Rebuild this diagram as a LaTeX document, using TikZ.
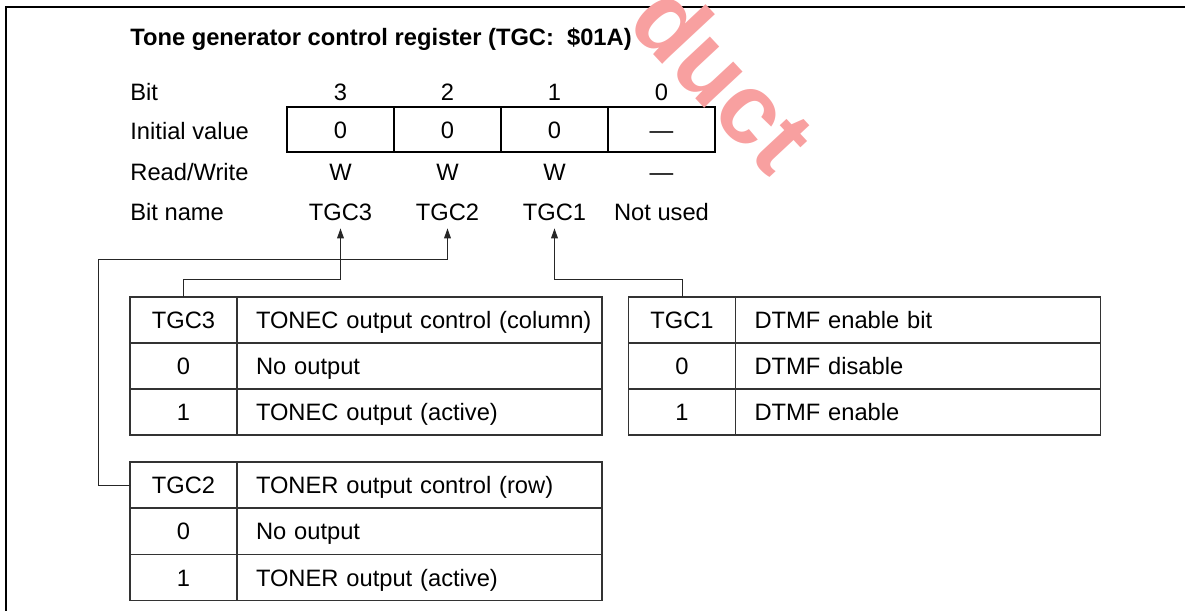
\documentclass[tikz,border=0pt]{standalone}
\usepackage{fontspec}
\setmainfont{Liberation Sans}
\usetikzlibrary{positioning,arrows.meta}
\definecolor{wmred}{RGB}{248,160,160}

\begin{document}
\begin{tikzpicture}[x=0.5pt,y=-0.5pt,
  font=\fontsize{11.85}{14}\selectfont,
  lbl/.style={inner xsep=0pt,inner ysep=3.75pt,text height=8.5pt,text depth=0pt},
  regcell/.style={draw,line width=0.6pt,minimum width=53.5pt,minimum height=22.5pt,inner sep=0pt,outer sep=0pt,text height=8.5pt,text depth=0pt},
  keycell/.style={draw=black!80,line width=0.6pt,minimum width=53.5pt,minimum height=23pt,inner sep=0pt,outer sep=0pt,text height=8.5pt,text depth=0pt},
  desccell/.style={draw=black!80,line width=0.6pt,minimum height=23pt,text width=163.5pt,inner xsep=9.5pt,inner ysep=0pt,outer sep=0pt,align=left,text height=8.5pt,text depth=0pt},
  arr/.style={-{Triangle[length=5pt,width=3.4pt]},line width=0.5pt,draw=black!85},
  frame/.style={line width=1pt}]
\useasboundingbox (0,0) rectangle (1185,611);
\draw[frame] (1185,7) -- (6,7) -- (6,611);

% register layout
\node[lbl,anchor=west,font=\fontsize{11.85}{14}\selectfont\bfseries] (title) at (130,37) {Tone generator control register (TGC: \ \$01A)};
\node[lbl,anchor=west] (lbit) at (130,92) {Bit};
\node[lbl,anchor=west] (linit) at (130,131) {Initial value};
\node[lbl,anchor=west] (lrw) at (130,172) {Read/Write};
\node[lbl,anchor=west] (lname) at (130,212) {Bit name};
\foreach \b/\iv/\rw/\nm [count=\i from 0] in {3/0/W/TGC3,2/0/W/TGC2,1/0/W/TGC1,0/—/—/Not used}{
  \node[regcell] (r\b) at (340.5+107*\i,129.5) {\iv};
  \node[lbl] (bit\b) at (340.5+107*\i,92) {\b};
  \node[lbl] (rw\b) at (340.5+107*\i,172) {\rw};
  \node[lbl] (nm\b) at (340.5+107*\i,212) {\nm};
}

% TGC3 table
\foreach \k/\v/\d [count=\j from 0] in {a/TGC3/TONEC output control (column),b/0/No output,c/1/TONEC output (active)}{
  \node[keycell] (k3\k) at (183.5,320+46*\j) {\v};
  \node[desccell,right=0pt of k3\k] (d3\k) {\mbox{\d}};
}
% TGC1 table
\foreach \k/\v/\d [count=\j from 0] in {a/TGC1/DTMF enable bit,b/0/DTMF disable,c/1/DTMF enable}{
  \node[keycell] (k1\k) at (682,320+46*\j) {\v};
  \node[desccell,right=0pt of k1\k] (d1\k) {\mbox{\d}};
}
% TGC2 table
\foreach \k/\v/\d [count=\j from 0] in {a/TGC2/TONER output control (row),b/0/No output,c/1/TONER output (active)}{
  \node[keycell] (k2\k) at (183.5,485+46.3*\j) {\v};
  \node[desccell,right=0pt of k2\k] (d2\k) {\mbox{\d}};
}

\draw[arr] (k3a.north) -- ++(0,-18) -| (nm3.south);
\draw[arr] (k2a.west) -- ++(-32,0) -- ++(0,-226) -| (nm2.south);
\draw[arr] (k1a.north) -- ++(0,-18) -| (nm1.south);

% watermark
\begin{scope}
  \clip (0,0) rectangle (1185,611);
  \node[rotate=-47,text=wmred,font=\fontsize{50}{50}\selectfont\bfseries] (wm) at (724,77) {duct};
\end{scope}
\end{tikzpicture}
\end{document}
